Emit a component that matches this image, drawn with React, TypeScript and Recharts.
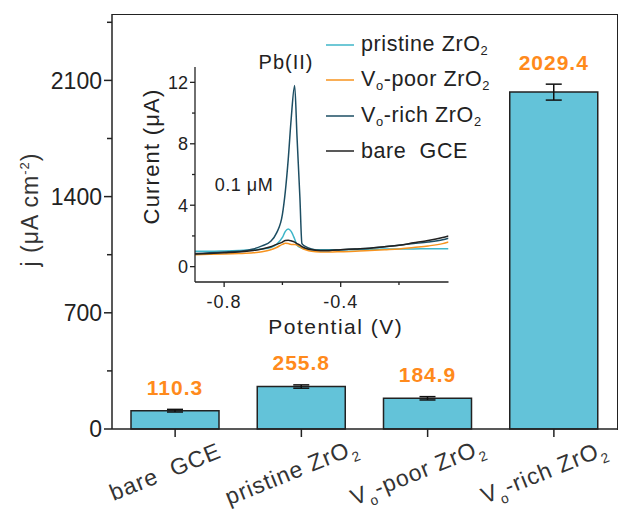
import React from "react";
import { BarChart, Bar, XAxis, YAxis, ErrorBar, LabelList, LineChart, Line } from "recharts";

// main bar chart
const categories = ["bare  GCE", "pristine ZrO_2", "V_o-poor ZrO_2", "V_o-rich ZrO_2"];
const currentDensity = [110.3, 255.8, 184.9, 2029.4];
const densityError = [8, 10, 10, 48];
const densityTicks = [0, 350, 700, 1050, 1400, 1750, 2100, 2450];

// inset SWV curves
const potentials = [-0.9, -0.85, -0.8, -0.75, -0.7, -0.67, -0.64, -0.62, -0.6, -0.59, -0.58, -0.57, -0.558, -0.55, -0.54, -0.533, -0.52, -0.5, -0.47, -0.44, -0.4, -0.35, -0.3, -0.25, -0.2, -0.15, -0.1, -0.05, -0.03];
const pristine = [1.0, 1.0, 1.02, 1.05, 1.1, 1.15, 1.25, 1.45, 1.9, 2.3, 2.45, 2.3, 1.8, 1.4, 1.25, 1.2, 1.15, 1.12, 1.1, 1.1, 1.1, 1.1, 1.12, 1.15, 1.15, 1.15, 1.17, 1.17, 1.17];
const voPoor = [0.78, 0.8, 0.82, 0.85, 0.9, 0.97, 1.1, 1.25, 1.45, 1.52, 1.5, 1.45, 1.45, 1.4, 1.3, 1.2, 1.1, 1.0, 0.95, 0.95, 0.97, 1.0, 1.05, 1.1, 1.15, 1.25, 1.35, 1.5, 1.6];
const voRich = [0.85, 0.9, 0.95, 1.0, 1.15, 1.35, 1.65, 2.2, 3.4, 4.9, 7.0, 9.6, 11.8, 8.5, 4.5, 1.5, 1.3, 1.15, 1.05, 1.05, 1.1, 1.15, 1.2, 1.3, 1.4, 1.5, 1.6, 1.75, 1.85];
const bareGce = [0.82, 0.85, 0.9, 0.95, 1.05, 1.15, 1.3, 1.45, 1.6, 1.7, 1.72, 1.68, 1.6, 1.5, 1.4, 1.3, 1.2, 1.1, 1.05, 1.05, 1.1, 1.15, 1.2, 1.3, 1.4, 1.55, 1.7, 1.9, 2.0];
const potentialTicks = [-0.8, -0.6, -0.4, -0.2];
const currentTicks = [0, 2, 4, 6, 8, 10, 12];

const barData = categories.map((name, i) => ({ name, value: currentDensity[i], err: densityError[i] }));
const lineData = potentials.map((p, i) => ({ p, pristine: pristine[i], voPoor: voPoor[i], voRich: voRich[i], bare: bareGce[i] }));

const series = [
  { key: "pristine", name: "pristine ZrO_2", color: "#3fb6c9" },
  { key: "voPoor", name: "V_o-poor ZrO_2", color: "#f7931e" },
  { key: "voRich", name: "V_o-rich ZrO_2", color: "#1d4e63" },
  { key: "bare", name: "bare  GCE", color: "#222222" },
];

const INK = "#222";
const FONT = "Arial, 'Liberation Sans', sans-serif";
const PLOT_H = 415;
const Y_MAX = 2500;

// "ZrO_2" -> ZrO with subscript 2
function subParts(s: string) {
  return s.split(/(_\w)/).filter(Boolean).map((p) => (p.startsWith("_") ? { t: p.slice(1), sub: true } : { t: p, sub: false }));
}

function SvgSub({ text, size }: { text: string; size: number }) {
  const parts = subParts(text);
  let shifted = false;
  return (
    <>
      {parts.map((p, i) => {
        let dy = 0;
        if (p.sub && !shifted) { dy = size * 0.3; shifted = true; }
        else if (!p.sub && shifted) { dy = -size * 0.3; shifted = false; }
        return (
          <tspan key={i} dy={dy} fontSize={p.sub ? size * 0.6 : size}>{p.t}</tspan>
        );
      })}
    </>
  );
}

function HtmlSub({ text }: { text: string }) {
  return (
    <>
      {subParts(text).map((p, i) =>
        p.sub ? <sub key={i} style={{ fontSize: "0.6em", verticalAlign: "-0.3em" }}>{p.t}</sub> : <span key={i} style={{ whiteSpace: "pre" }}>{p.t}</span>
      )}
    </>
  );
}

function DensityTick(props: any) {
  const { x, y, payload } = props;
  const major = payload.value % 700 === 0;
  return (
    <g>
      <line x1={x - (major ? 8 : 5)} x2={x} y1={y} y2={y} stroke={INK} strokeWidth={1.5} />
      {major && (
        <text x={x - 10} y={y} dy="0.36em" textAnchor="end" fontSize={23} fill={INK} fontFamily={FONT}>
          {payload.value}
        </text>
      )}
    </g>
  );
}

function CategoryTick(props: any) {
  const { x, y, payload } = props;
  return (
    <g>
      <line x1={x} x2={x} y1={y} y2={y + 8} stroke={INK} strokeWidth={1.5} />
      <g transform={`translate(${x - 7},${y + 50}) rotate(-22)`}>
        <text textAnchor="middle" dy="0.35em" fill="#333" fontFamily={FONT} letterSpacing={1} fontSize={23} style={{ whiteSpace: "pre" }}>
          <SvgSub text={payload.value} size={23} />
        </text>
      </g>
    </g>
  );
}

function MainYLabel(props: any) {
  const vb = props.viewBox;
  const cx = vb.x + 30;
  const cy = vb.y + vb.height / 2 - 12;
  return (
    <text transform={`translate(${cx},${cy}) rotate(-90)`} textAnchor="middle" dy="0.35em" fontSize={23} fill="#333" fontFamily={FONT} letterSpacing={1}>
      j (μA cm<tspan dy={-9} fontSize={13}>-2</tspan><tspan dy={9}>)</tspan>
    </text>
  );
}

function ValueLabel(props: any) {
  const { x, y, width, value, index } = props;
  const errPx = (densityError[index] * PLOT_H) / Y_MAX;
  return (
    <text x={x + width / 2} y={y - errPx - 22} dy="0.35em" textAnchor="middle" fontSize={21} fontWeight="bold" fill="#ff8a1c" fontFamily={FONT} letterSpacing={1}>
      {value}
    </text>
  );
}

function PotentialTick(props: any) {
  const { x, y, payload } = props;
  const v = Math.round(payload.value * 10) / 10;
  const major = v === -0.8 || v === -0.4;
  return (
    <g>
      <line x1={x} x2={x} y1={y} y2={y + (major ? 5 : 3)} stroke={INK} strokeWidth={1.3} />
      {major && (
        <text x={x} y={y + 20} dy="0.35em" textAnchor="middle" fontSize={18} fill={INK} fontFamily={FONT} letterSpacing={1}>
          {v.toFixed(1)}
        </text>
      )}
    </g>
  );
}

function CurrentTick(props: any) {
  const { x, y, payload } = props;
  const major = payload.value % 4 === 0;
  return (
    <g>
      <line x1={x - (major ? 5 : 3)} x2={x} y1={y} y2={y} stroke={INK} strokeWidth={1.3} />
      {major && (
        <text x={x - 7} y={y} dy="0.36em" textAnchor="end" fontSize={18} fill={INK} fontFamily={FONT}>
          {payload.value}
        </text>
      )}
    </g>
  );
}

function PotentialLabel(props: any) {
  const vb = props.viewBox;
  return (
    <text x={vb.x + vb.width / 2 + 14} y={vb.y + 45} dy="0.35em" textAnchor="middle" fontSize={21} fill={INK} fontFamily={FONT} letterSpacing={1.5}>
      Potential (V)
    </text>
  );
}

function CurrentLabel(props: any) {
  const vb = props.viewBox;
  return (
    <text transform={`translate(${vb.x + 31},${vb.y + vb.height / 2 - 18}) rotate(-90)`} textAnchor="middle" dy="0.35em" fontSize={22} fill={INK} fontFamily={FONT} letterSpacing={1.2}>
      Current (μA)
    </text>
  );
}

export default function App() {
  return (
    <div style={{ position: "absolute", left: 0, top: 0, width: 619, height: 519, background: "#fff", fontFamily: FONT }}>
      <BarChart width={619} height={519} data={barData} margin={{ top: 14, right: 2, left: 0, bottom: 0 }}>
        <XAxis
          dataKey="name"
          height={90}
          interval={0}
          tickSize={0}
          tickMargin={0}
          tickLine={false}
          axisLine={{ stroke: INK, strokeWidth: 1.5 }}
          tick={<CategoryTick />}
        />
        <YAxis
          width={112}
          domain={[0, Y_MAX]}
          ticks={densityTicks}
          interval={0}
          tickSize={0}
          tickMargin={0}
          tickLine={false}
          axisLine={{ stroke: INK, strokeWidth: 1.5 }}
          tick={<DensityTick />}
          label={MainYLabel}
        />
        <Bar dataKey="value" barSize={88} fill="#63c3d9" stroke={INK} strokeWidth={1.5} isAnimationActive={false}>
          <ErrorBar dataKey="err" width={8} stroke="#111" strokeWidth={1.5} direction="y" />
          <LabelList dataKey="value" content={ValueLabel} />
        </Bar>
      </BarChart>

      {/* top and right frame */}
      <div style={{ position: "absolute", left: 112, top: 13.5, width: 505, height: 415, borderTop: `1.5px solid ${INK}`, borderRight: `1.5px solid ${INK}`, pointerEvents: "none" }} />

      <div style={{ position: "absolute", left: 120, top: 30, width: 440, height: 320 }}>
        <LineChart width={440} height={320} data={lineData} margin={{ top: 37, right: 111.5, left: 0, bottom: 0 }}>
          <XAxis
            type="number"
            dataKey="p"
            domain={[-0.9, -0.03]}
            ticks={potentialTicks}
            interval={0}
            allowDataOverflow
            height={68}
            tickSize={0}
            tickMargin={0}
            tickLine={false}
            axisLine={{ stroke: INK, strokeWidth: 1.3 }}
            tick={<PotentialTick />}
            label={PotentialLabel}
          />
          <YAxis
            domain={[-1, 13]}
            ticks={currentTicks}
            interval={0}
            allowDataOverflow
            width={75}
            tickSize={0}
            tickMargin={0}
            tickLine={false}
            axisLine={{ stroke: INK, strokeWidth: 1.3 }}
            tick={<CurrentTick />}
            label={CurrentLabel}
          />
          {series.map((s) => (
            <Line key={s.key} type="monotone" dataKey={s.key} name={s.name} stroke={s.color} strokeWidth={1.5} dot={false} isAnimationActive={false} />
          ))}
        </LineChart>

        {/* inset legend */}
        <div style={{ position: "absolute", left: 206, top: -3, color: INK }}>
          {series.map((s) => (
            <div key={s.key} style={{ display: "flex", alignItems: "center", height: 35.5 }}>
              <svg width={28} height={4} style={{ display: "block" }}>
                <line x1={0} x2={28} y1={2} y2={2} stroke={s.color} strokeWidth={1.5} />
              </svg>
              <span style={{ marginLeft: 7, fontSize: 21.5, letterSpacing: 0.6, whiteSpace: "pre" }}>
                <HtmlSub text={s.name} />
              </span>
            </div>
          ))}
        </div>

        <div style={{ position: "absolute", left: 166, top: 32, transform: "translate(-50%,-50%)", fontSize: 20, color: INK, letterSpacing: 1, whiteSpace: "nowrap" }}>Pb(II)</div>
        <div style={{ position: "absolute", left: 124, top: 155, transform: "translate(-50%,-50%)", fontSize: 18, color: INK, letterSpacing: 0.5, whiteSpace: "nowrap" }}>0.1 μM</div>
      </div>
    </div>
  );
}
